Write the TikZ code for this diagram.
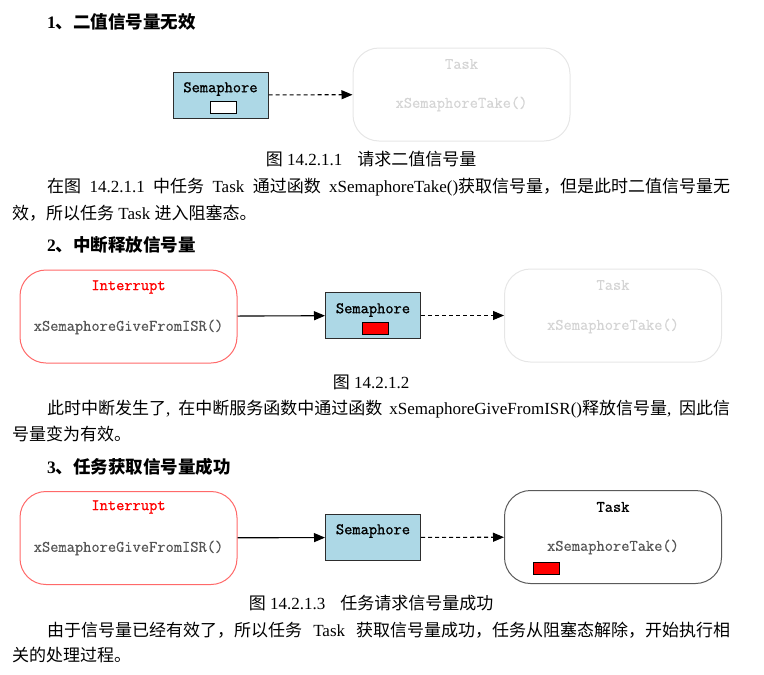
\documentclass[tikz,border=0pt]{standalone}
\usepackage{fontspec}
\setmainfont{Liberation Serif}
\setmonofont{Latin Modern Mono}[FakeBold=0.5]
\newfontfamily\codebold{Latin Modern Mono}[FakeBold=1.1]
\newfontfamily\cnfont{Noto Sans CJK SC}
\newcommand{\cn}[1]{{\cnfont #1}}
\usetikzlibrary{arrows.meta}

\definecolor{semblue}{RGB}{173,216,230}
\definecolor{semline}{RGB}{45,45,45}
\definecolor{intred}{RGB}{255,105,105}
\definecolor{fadegray}{RGB}{230,230,230}
\definecolor{fadetext}{RGB}{212,212,212}
\definecolor{codegray}{RGB}{85,85,85}
\definecolor{taskgray}{RGB}{90,90,90}

\begin{document}
\begin{tikzpicture}[x=1pt, y=-1pt]
\tikzstyle{semaphore}=[rectangle, draw=semline, fill=semblue, line width=1pt, minimum width=95pt, minimum height=46pt, inner sep=0pt]
\tikzstyle{taskbox}=[rectangle, rounded corners=26pt, line width=1pt, minimum width=217pt, minimum height=93pt, inner sep=0pt]
\tikzstyle{codetext}=[font=\fontsize{16}{17}\selectfont\ttfamily, inner sep=0pt]
\tikzstyle{codelabel}=[font=\fontsize{16}{17}\selectfont\codebold, inner sep=0pt]
\tikzstyle{body}=[font=\fontsize{17}{19}\selectfont, anchor=base west, inner sep=0pt]
\tikzstyle{caption}=[font=\fontsize{17}{19}\selectfont, anchor=base, inner sep=0pt]
\tikzstyle{heading}=[font=\fontsize{17.5}{20}\selectfont\bfseries, anchor=base west, inner sep=0pt]
\tikzstyle{token}=[rectangle, draw=black, line width=0.9pt, minimum width=26pt, minimum height=12pt, inner sep=0pt]
\tikzstyle{give}=[line width=1.1pt, -{Triangle[length=11pt,width=9pt]}]
\tikzstyle{take}=[give, dash pattern=on 4pt off 3pt]

\useasboundingbox (0,0) rectangle (764,675);

% 1
\node[heading] (H1) at (47,28) {1\cn{、二值信号量无效}};
\node[semaphore] (S1) at (220.5,95) {};
\node[codelabel] (S1t) at (220.5,89) {Semaphore};
\node[token, fill=white] (S1k) at (223,107) {};
\node[taskbox, draw=fadegray] (T1) at (461.5,94.5) {};
\node[codetext, text=fadetext] (T1a) at (461.5,64) {Task};
\node[codetext, text=fadetext] (T1b) at (461.5,104) {xSemaphoreTake()};
\draw[take] (S1) -- (T1);
\node[caption] (C1) at (371,165) {\cn{图} 14.2.1.1\hspace{15pt}\cn{请求二值信号量}};
\node[body] (P1a) at (47,192) {\makebox[683pt][s]{\cn{在图} 14.2.1.1 \cn{中任务} Task \cn{通过函数} xSemaphoreTake()\cn{获取信号量，但是此时二值信号量无}}};
\node[body] (P1b) at (12,219) {\cn{效，所以任务} Task \cn{进入阻塞态。}};

% 2
\node[heading] (H2) at (47,251) {2\cn{、中断释放信号量}};
\node[taskbox, draw=intred] (I2) at (128.5,316.5) {};
\node[codelabel, text=red] (I2a) at (128.5,287) {Interrupt};
\node[codetext, text=codegray] (I2b) at (128.5,327) {xSemaphoreGiveFromISR()};
\node[semaphore] (S2) at (373,315.5) {};
\node[codelabel] (S2t) at (373,310) {Semaphore};
\node[token, fill=red] (S2k) at (375,328) {};
\node[taskbox, draw=fadegray] (T2) at (613,315.5) {};
\node[codetext, text=fadetext] (T2a) at (613,285) {Task};
\node[codetext, text=fadetext] (T2b) at (613,326) {xSemaphoreTake()};
\draw[give] (I2) -- (S2);
\draw[take] (S2) -- (T2);
\node[caption] (C2) at (371,388) {\cn{图} 14.2.1.2};
\node[body] (P2a) at (47,414) {\makebox[683pt][s]{\cn{此时中断发生了}, \cn{在中断服务函数中通过函数} xSemaphoreGiveFromISR()\cn{释放信号量}, \cn{因此信}}};
\node[body] (P2b) at (12,440) {\cn{号量变为有效。}};

% 3
\node[heading] (H3) at (47,473) {3\cn{、任务获取信号量成功}};
\node[taskbox, draw=intred] (I3) at (128.5,538) {};
\node[codelabel, text=red] (I3a) at (128.5,507) {Interrupt};
\node[codetext, text=codegray] (I3b) at (128.5,548) {xSemaphoreGiveFromISR()};
\node[semaphore] (S3) at (373,537.5) {};
\node[codelabel] (S3t) at (373,531) {Semaphore};
\node[taskbox, draw=taskgray] (T3) at (613,537) {};
\node[codelabel, text=black] (T3a) at (613,507) {Task};
\node[codetext, text=codegray] (T3b) at (613,547) {xSemaphoreTake()};
\node[token, fill=red] (T3k) at (546.5,568) {};
\draw[give] (I3) -- (S3);
\draw[take] (S3) -- (T3);
\node[caption] (C3) at (371,609) {\cn{图} 14.2.1.3\hspace{15pt}\cn{任务请求信号量成功}};
\node[body] (P3a) at (47,636) {\makebox[683pt][s]{\cn{由于信号量已经有效了，所以任务} Task \cn{获取信号量成功，任务从阻塞态解除，开始执行相}}};
\node[body] (P3b) at (12,661) {\cn{关的处理过程。}};
\end{tikzpicture}
\end{document}
